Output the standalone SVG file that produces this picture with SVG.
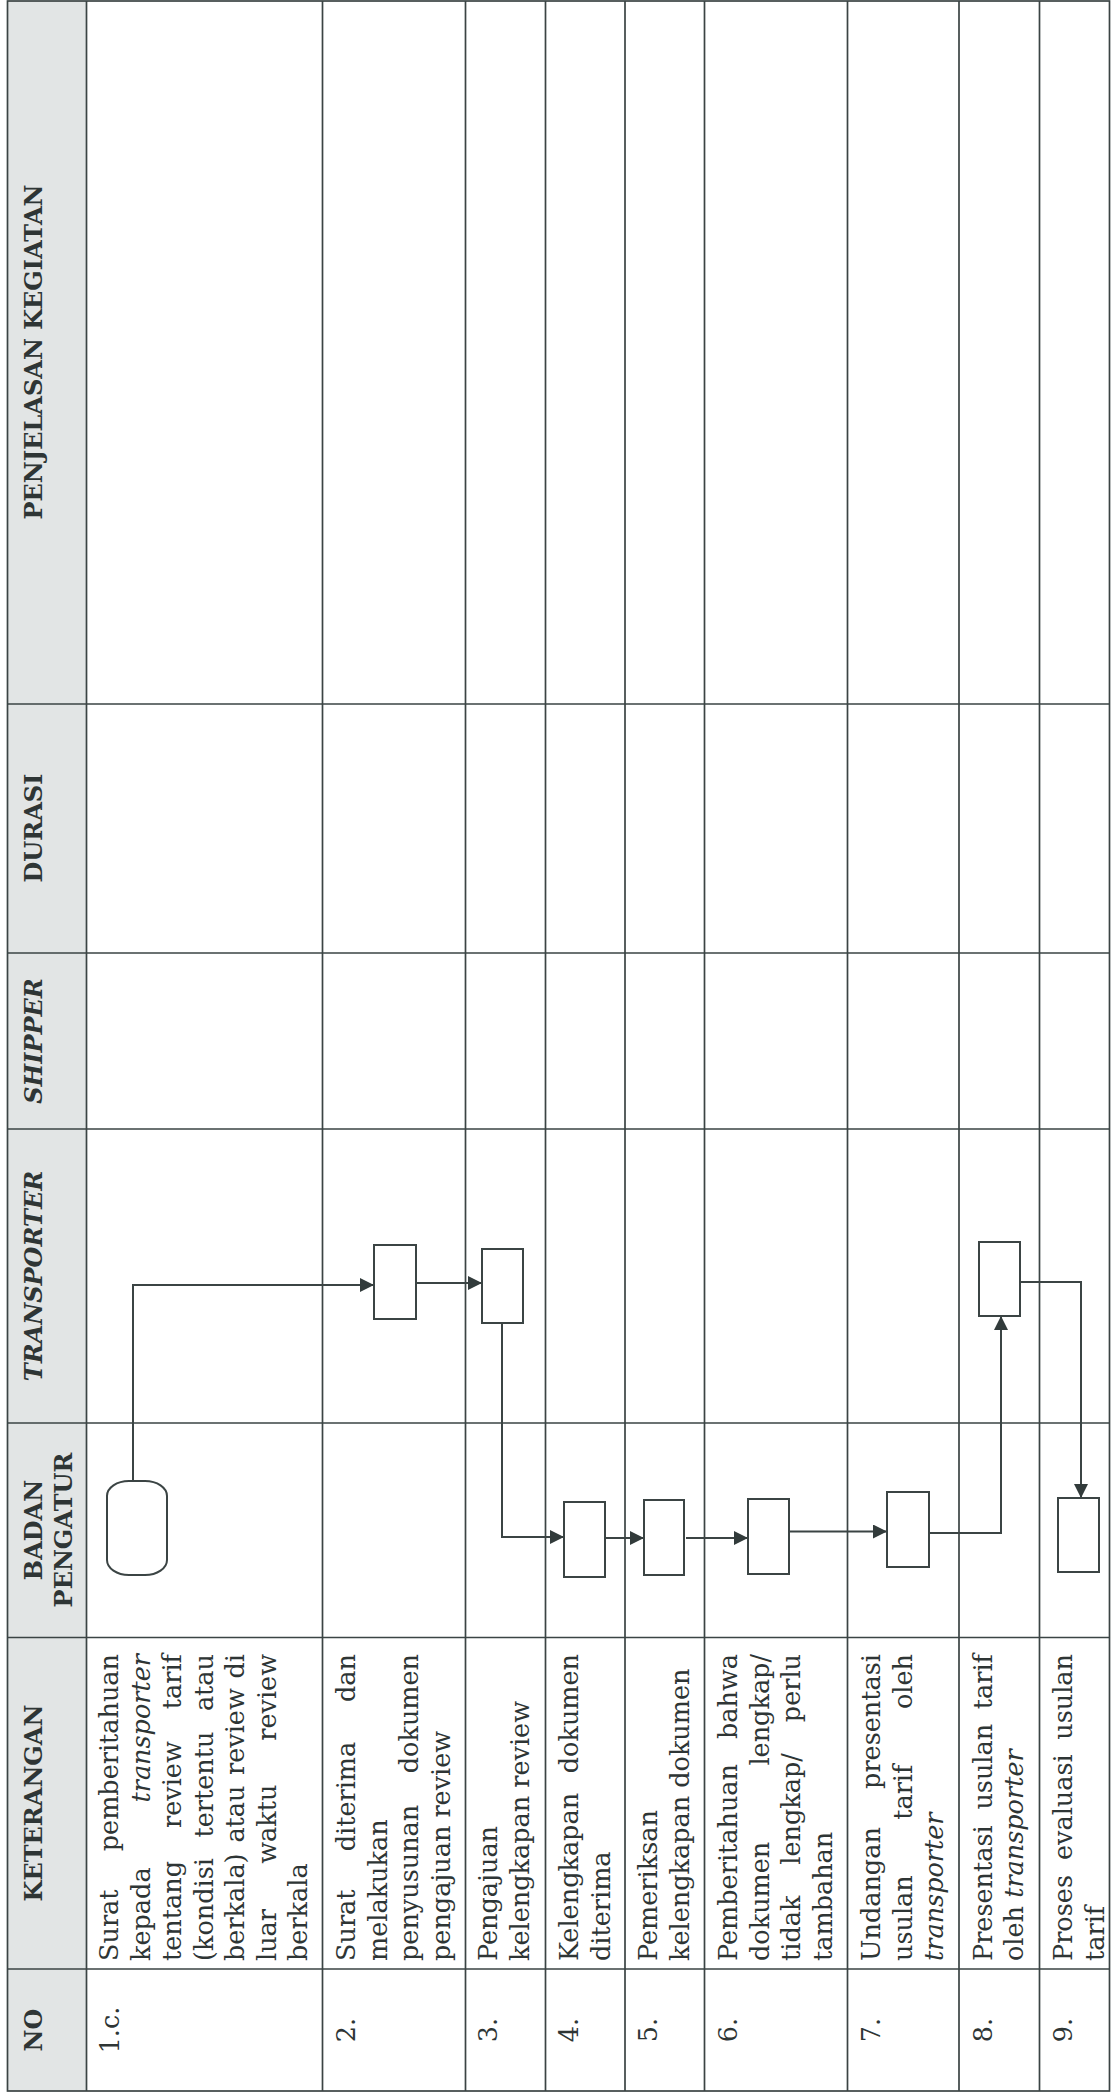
<svg xmlns="http://www.w3.org/2000/svg" width="1111" height="2099" viewBox="0 0 1111 2099">
<defs>
<style>
.grid{stroke:#3b4444;stroke-width:1.7;fill:none}
.hdr{fill:#e2e5e5}
.node{fill:#fff;stroke:#3b4444;stroke-width:2}
.conn{fill:none;stroke:#3b4444;stroke-width:2}
.h{font-family:"DejaVu Serif","Liberation Serif",serif;font-weight:bold;font-size:24px;fill:#2e3535}
.t{font-family:"DejaVu Serif","Liberation Serif",serif;font-size:25.5px;fill:#2e3535}
.i{font-style:italic}
.e{text-anchor:end}
.m{text-anchor:middle}
</style>
<marker id="arr" markerUnits="userSpaceOnUse" markerWidth="14" markerHeight="14" refX="14" refY="7" orient="auto" viewBox="0 0 14 14"><path d="M0,0 L14,7 L0,14 z" fill="#323b3b"/></marker>
</defs>
<rect width="1111" height="2099" fill="#fff"/>
<g id="table">
<rect class="hdr" x="7.5" y="1" width="79" height="2090"/>
<rect class="grid" x="7.5" y="1" width="1102" height="2090"/>
<path class="grid" d="M86.5,1V2091M322.5,1V2091M465.5,1V2091M545.5,1V2091M625,1V2091M704.5,1V2091M847.5,1V2091M959,1V2091M1039.5,1V2091M7.5,704H1109.5M7.5,953H1109.5M7.5,1129H1109.5M7.5,1423H1109.5M7.5,1637.5H1109.5M7.5,1969H1109.5"/>
</g>
<g id="headers">
<text class="h m" transform="translate(42,2030) rotate(-90)">NO</text>
<text class="h m" transform="translate(42,1803) rotate(-90)">KETERANGAN</text>
<text class="h m" transform="translate(42,1530) rotate(-90)">BADAN</text>
<text class="h m" transform="translate(72,1530) rotate(-90)">PENGATUR</text>
<text class="h m i" transform="translate(42,1276) rotate(-90)">TRANSPORTER</text>
<text class="h m i" transform="translate(42,1041) rotate(-90)">SHIPPER</text>
<text class="h m" transform="translate(42,828) rotate(-90)">DURASI</text>
<text class="h m" transform="translate(42,352) rotate(-90)">PENJELASAN KEGIATAN</text>
</g>
<g id="no-col" transform="translate(0,2030) rotate(-90)">
<text class="t m" x="0" y="119">1.c.</text>
<text class="t m" x="0" y="355">2.</text>
<text class="t m" x="0" y="497">3.</text>
<text class="t m" x="0" y="578">4.</text>
<text class="t m" x="0" y="657">5.</text>
<text class="t m" x="0" y="737">6.</text>
<text class="t m" x="0" y="880">7.</text>
<text class="t m" x="0" y="991.5">8.</text>
<text class="t m" x="0" y="1072">9.</text>
</g>
<g id="keterangan" transform="translate(0,1961) rotate(-90)">
<g id="row-1c">
<text class="t" x="0" y="118">Surat</text><text class="t e" x="307" y="118">pemberitahuan</text>
<text class="t" x="0" y="149.5">kepada</text><text class="t e i" x="307" y="149.5">transporter</text>
<text class="t" x="0" y="181">tentang</text><text class="t" x="133" y="181">review</text><text class="t e" x="307" y="181">tarif</text>
<text class="t" x="0" y="212.5">(kondisi</text><text class="t" x="123.5" y="212.5">tertentu</text><text class="t e" x="307" y="212.5">atau</text>
<text class="t" x="0" y="244">berkala)</text><text class="t" x="118.4" y="244">atau</text><text class="t" x="186" y="244">review</text><text class="t e" x="307" y="244">di</text>
<text class="t" x="0" y="275.5">luar</text><text class="t" x="97.2" y="275.5">waktu</text><text class="t e" x="307" y="275.5">review</text>
<text class="t" x="0" y="307">berkala</text>
</g>
<g id="row-2">
<text class="t" x="0" y="355">Surat</text><text class="t" x="109.7" y="355">diterima</text><text class="t e" x="307" y="355">dan</text>
<text class="t" x="0" y="386.5">melakukan</text>
<text class="t" x="0" y="418">penyusunan</text><text class="t e" x="307" y="418">dokumen</text>
<text class="t" x="0" y="449.5">pengajuan review</text>
</g>
<g id="row-3">
<text class="t" x="0" y="497">Pengajuan</text>
<text class="t" x="0" y="528.5">kelengkapan review</text>
</g>
<g id="row-4">
<text class="t" x="0" y="578">Kelengkapan</text><text class="t e" x="307" y="578">dokumen</text>
<text class="t" x="0" y="610">diterima</text>
</g>
<g id="row-5">
<text class="t" x="0" y="657">Pemeriksan</text>
<text class="t" x="0" y="688.5">kelengkapan dokumen</text>
</g>
<g id="row-6">
<text class="t" x="0" y="737">Pemberitahuan</text><text class="t e" x="307" y="737">bahwa</text>
<text class="t" x="0" y="768.5">dokumen</text><text class="t e" x="307" y="768.5">lengkap/</text>
<text class="t" x="0" y="800">tidak</text><text class="t" x="96.3" y="800">lengkap/</text><text class="t e" x="307" y="800">perlu</text>
<text class="t" x="0" y="831.5">tambahan</text>
</g>
<g id="row-7">
<text class="t" x="0" y="880">Undangan</text><text class="t e" x="307" y="880">presentasi</text>
<text class="t" x="0" y="911.5">usulan</text><text class="t" x="141.2" y="911.5">tarif</text><text class="t e" x="307" y="911.5">oleh</text>
<text class="t i" x="0" y="943">transporter</text>
</g>
<g id="row-8">
<text class="t" x="0" y="991.5">Presentasi</text><text class="t" x="151.4" y="991.5">usulan</text><text class="t e" x="307" y="991.5">tarif</text>
<text class="t" x="0" y="1023">oleh <tspan class="i">transporter</tspan></text>
</g>
<g id="row-9">
<text class="t" x="0" y="1072">Proses</text><text class="t" x="101" y="1072">evaluasi</text><text class="t e" x="307" y="1072">usulan</text>
<text class="t" x="0" y="1103.5">tarif</text>
</g>
</g>
<g id="connectors">
<path class="conn" marker-end="url(#arr)" d="M133,1481V1285H374"/>
<path class="conn" marker-end="url(#arr)" d="M416,1283H482"/>
<path class="conn" marker-end="url(#arr)" d="M502,1323V1537H564"/>
<path class="conn" marker-end="url(#arr)" d="M605,1538H644"/>
<path class="conn" marker-end="url(#arr)" d="M686,1538H748"/>
<path class="conn" marker-end="url(#arr)" d="M789,1531.5H887"/>
<path class="conn" marker-end="url(#arr)" d="M929,1533H1001V1316"/>
<path class="conn" marker-end="url(#arr)" d="M1020,1282H1081V1498"/>
</g>
<g id="n1"><rect class="node" x="107" y="1481" width="60" height="94" rx="22" ry="15"/></g>
<g id="n2"><rect class="node" x="374" y="1245" width="42" height="74"/></g>
<g id="n3"><rect class="node" x="482" y="1249" width="41" height="74"/></g>
<g id="n4"><rect class="node" x="564" y="1502" width="41" height="75"/></g>
<g id="n5"><rect class="node" x="644" y="1500" width="40" height="75"/></g>
<g id="n6"><rect class="node" x="748" y="1499" width="41" height="75"/></g>
<g id="n7"><rect class="node" x="887" y="1492" width="42" height="75"/></g>
<g id="n8"><rect class="node" x="979" y="1242" width="41" height="74"/></g>
<g id="n9"><rect class="node" x="1058" y="1498" width="41" height="74"/></g>
</svg>
